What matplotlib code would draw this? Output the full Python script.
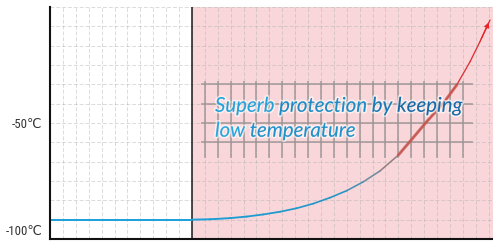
import numpy as np
import matplotlib
matplotlib.use('Agg')
import matplotlib.pyplot as plt
from matplotlib.collections import LineCollection
from matplotlib.colors import LinearSegmentedColormap, to_rgb, to_hex
import matplotlib.patheffects as pe
import matplotlib.transforms as mtransforms
import logging
logging.getLogger('matplotlib.font_manager').setLevel(logging.ERROR)

# Data (x in grid cells, y in degrees C)
flat_x = [0, 11]
flat_y = [-100, -100]
curve_x = [11.0, 12.4, 13.95, 15.25, 16.53, 17.83, 19.12, 20.41, 21.71, 23.00,
           24.29, 25.58, 27.00, 27.91, 29.20, 30.49, 31.53, 32.56, 33.33, 34.11]
curve_y = [-100.0, -99.8, -99.2, -98.4, -97.3, -95.9, -94.1, -91.7, -88.6, -85.0,
           -80.4, -74.8, -66.6, -59.5, -49.3, -39.8, -30.3, -18.3, -7.9, 3.3]
ytick_values = [-50, -100]
ytick_labels = ['-50℃', '-100℃']
divider_x = 11
box_rows = [-30, -40, -50, -60]
box_cols = list(range(12, 33))
caption_lines = [['Superb', 'protection', 'by', 'keeping'], ['low', 'temperature']]

XMAX = 34.34
fig = plt.figure(figsize=(4.93, 2.41), dpi=100)
ax = fig.add_axes([50 / 493, 2 / 241, 443 / 493, 232 / 241])
ax.set_xlim(0, XMAX)
ax.set_ylim(-110, 10)

# shaded region right of the divider
ax.axvspan(divider_x, XMAX, color='#f9d6d9', zorder=0, lw=0)

# background grid
for gx in range(1, 35):
    ax.axvline(gx, color='#b0b0b0', alpha=0.45, lw=0.7, ls=(0, (4, 2)), zorder=1)
for gy in range(-100, 11, 10):
    ax.axhline(gy, color='#b0b0b0', alpha=0.45, lw=0.7, ls=(0, (4, 2)), zorder=1)

ax.axvline(divider_x, color='#1a1a1a', lw=1.1, zorder=3)

# darker grid patch behind the caption
for r in box_rows:
    ax.plot([11.8, 32.7], [r, r], color='#9c9494', lw=1.3, alpha=0.8, zorder=2)
for c in box_cols:
    ax.plot([c, c], [-28.8, -67.6], color='#9c9494', lw=1.3, alpha=0.8, zorder=2)

# flat part of the line
ax.plot(flat_x, flat_y, color='#1a9fd8', lw=1.4, zorder=4, solid_capstyle='butt')

# rising curve with blue -> red gradient
cmap = LinearSegmentedColormap.from_list('heat', [
    (0.0, '#1aa0da'), (0.5, '#2496c6'), (0.63, '#7d8a95'),
    (0.70, '#a8706a'), (0.85, '#d04040'), (1.0, '#e8242a')])
pts = np.column_stack([curve_x, curve_y])
segs = np.stack([pts[:-1], pts[1:]], axis=1)
mid = (np.array(curve_x[:-1]) + np.array(curve_x[1:])) / 2
t = (mid - curve_x[0]) / (curve_x[-1] - curve_x[0])
widths = np.linspace(1.4, 0.9, len(segs))
lc = LineCollection(segs, colors=cmap(t), linewidths=widths, zorder=4, capstyle='round', joinstyle='round')
ax.add_collection(lc)

# thicker highlight over the grid patch
hx = [cx for cx, cy in zip(curve_x, curve_y) if -67 <= cy <= -29]
hy = [cy for cx, cy in zip(curve_x, curve_y) if -67 <= cy <= -29]
ax.plot(hx, hy, color='#c8564e', lw=2.2, alpha=0.75, zorder=4, solid_capstyle='round')

ax.annotate('', xy=(curve_x[-1], curve_y[-1]), xytext=(curve_x[-2], curve_y[-2]),
            arrowprops=dict(arrowstyle='-|>', color='#e8242a', lw=0.9, mutation_scale=7),
            zorder=5)

# caption, word by word so the blue can darken from left to right
cap_font = dict(fontsize=14.7, style='italic', family=['Lato', 'Open Sans', 'DejaVu Sans'])
renderer = fig.canvas.get_renderer()


def text_width(s):
    tmp = ax.text(0, 0, s, **cap_font)
    w = tmp.get_window_extent(renderer).width
    tmp.remove()
    return w


c_light = np.array(to_rgb('#2aaae2'))
c_dark = np.array(to_rgb('#14609f'))
full_w = text_width(' '.join(caption_lines[0]))
x0 = 12.79
baselines = [-44.2, -57.1]
for words, base in zip(caption_lines, baselines):
    for i, w in enumerate(words):
        prefix = ' '.join(words[:i + 1])
        ww = text_width(w)
        start = text_width(prefix) - ww
        frac = float(np.clip((start + ww / 2) / full_w, 0, 1))
        col = to_hex(c_light + (c_dark - c_light) * frac)
        tr = ax.transData + mtransforms.ScaledTranslation(start / fig.dpi, 0, fig.dpi_scale_trans)
        ax.text(x0, base, w, transform=tr, color=col, va='baseline', ha='left', zorder=6,
                path_effects=[pe.withStroke(linewidth=2.5, foreground=(1, 1, 1, 0.6))], **cap_font)

ax.set_yticks(ytick_values)
ax.set_yticklabels(ytick_labels, family=['Roboto Condensed', 'Archivo Narrow', 'PT Sans Narrow',
                                         'Liberation Sans Narrow', 'DejaVu Sans'],
                   fontsize=9.3, color='#333333')
ax.tick_params(axis='y', length=0, pad=5.5)
ax.set_xticks([])
lbl = ax.get_yticklabels()[1]
lbl.set_transform(lbl.get_transform() + mtransforms.ScaledTranslation(0, -10 / 100, fig.dpi_scale_trans))

for side in ['top', 'right']:
    ax.spines[side].set_visible(False)
for side in ['left', 'bottom']:
    ax.spines[side].set_linewidth(1.5)
    ax.spines[side].set_color('#111111')
    ax.spines[side].set_zorder(7)

fig.savefig('out.png', dpi=100)
